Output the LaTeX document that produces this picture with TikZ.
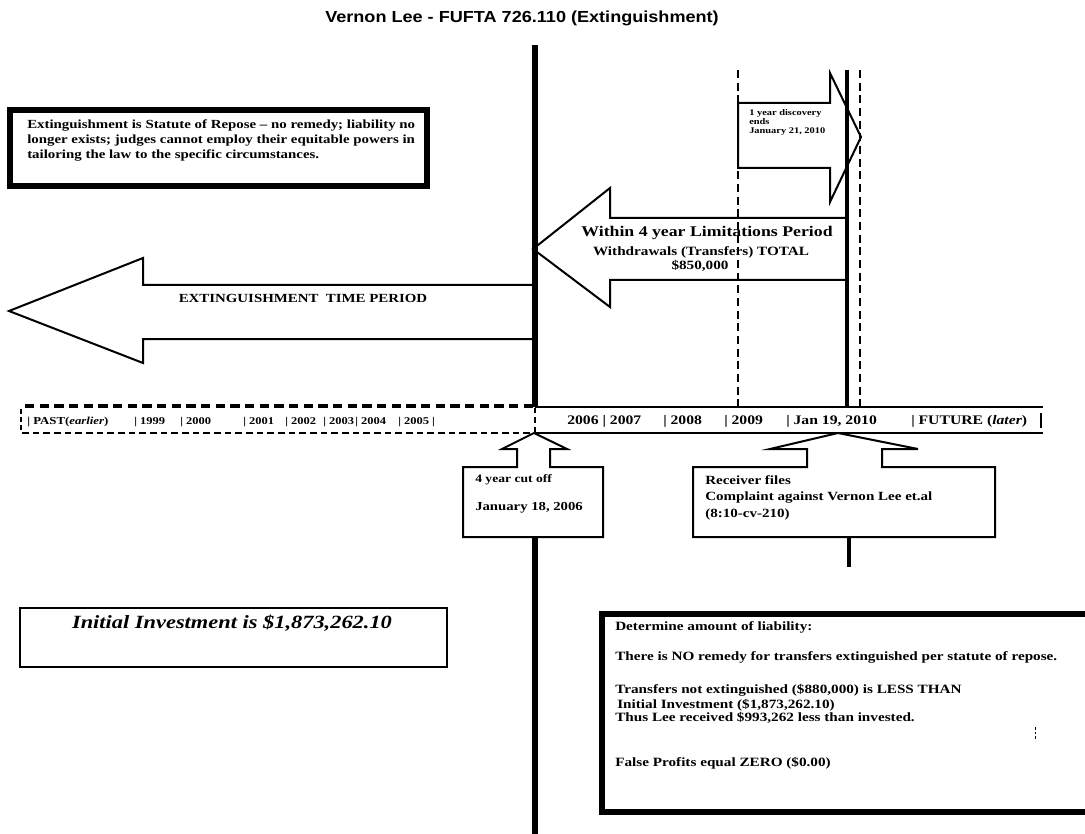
\documentclass[tikz,border=0pt]{standalone}
\usepackage{fontspec}
\setmainfont[FakeStretch=1.2]{Liberation Serif}
\newfontfamily\titlefont[FakeStretch=1.13]{Liberation Sans}
\begin{document}
\begin{tikzpicture}[x=0.75pt,y=-0.75pt,line join=miter,
  txt/.style={inner sep=0pt,font=\bfseries\fontsize{9.5}{11.25}\selectfont},
  tl/.style={inner sep=0pt,anchor=west,font=\bfseries\fontsize{9.8}{10}\selectfont},
  tlsmall/.style={inner sep=0pt,anchor=west,font=\bfseries\fontsize{7.8}{9}\selectfont},
  blockarrow/.style={draw,fill=white,line width=1.5pt},
  dashline/.style={line width=1.5pt,dash pattern=on 6pt off 3.5pt},
  callout/.style={draw,fill=white,line width=1.5pt}]
\useasboundingbox[fill=white] (0,0) rectangle (1085,834);

% title
\node[inner sep=0pt,font=\titlefont\bfseries\fontsize{12}{14}\selectfont] (title) at (522,18) {Vernon Lee - FUFTA 726.110 (Extinguishment)};

% boxes
\draw[line width=3.8pt] (10,110) rectangle (427,186);
\node[txt,anchor=north west,align=left,font=\bfseries\fontsize{9.3}{11.25}\selectfont] (extbox) at (27,120) {Extinguishment is Statute of Repose -- no remedy; liability no\\longer exists; judges cannot employ their equitable powers in\\tailoring the law to the specific circumstances.};

\draw[line width=1.2pt] (20,608) rectangle (447,667);
\node[inner sep=0pt,font=\bfseries\itshape\fontsize{14}{16}\selectfont] (initial) at (232,623) {Initial Investment is \$1,873,262.10};

\draw[line width=5pt] (602,614) rectangle (1100,812);
\node[txt,anchor=west] (l1) at (615,627) {Determine amount of liability:};
\node[txt,anchor=west] (l2) at (615,657) {There is NO remedy for transfers extinguished per statute of repose.};
\node[txt,anchor=west] (l3) at (615,690) {Transfers not extinguished (\$880,000) is LESS THAN};
\node[txt,anchor=west] (l4) at (617,705) {Initial Investment (\$1,873,262.10)};
\node[txt,anchor=west] (l5) at (615,718) {Thus Lee received \$993,262 less than invested.};
\node[txt,anchor=west] (l6) at (615,763) {False Profits equal ZERO (\$0.00)};
\draw[line width=0.6pt,dash pattern=on 2pt off 1.5pt] (1035,727) -- (1035,741);

% block arrows
\draw[blockarrow] (535,285) -- (143,285) -- (143,258) -- (9,311) -- (143,363) -- (143,339) -- (535,339);
\node[inner sep=0pt,font=\bfseries\fontsize{9.3}{12}\selectfont] (extlabel) at (303,298) {EXTINGUISHMENT\ \ TIME PERIOD};

\draw[blockarrow] (845,218) -- (610,218) -- (610,188) -- (533,249) -- (610,307) -- (610,280) -- (845,280);
\node[inner sep=0pt,align=center,font=\bfseries\fontsize{11.1}{13}\selectfont] (within) at (707,233) {Within 4 year Limitations Period};
\node[inner sep=0pt,align=center,font=\bfseries\fontsize{9.5}{11}\selectfont] (withdr) at (701,252) {Withdrawals (Transfers) TOTAL};
\node[inner sep=0pt,align=center,font=\bfseries\fontsize{9.5}{11}\selectfont] (amount) at (700,266) {\$850,000};

\draw[blockarrow] (738,103) -- (830,103) -- (830,73) -- (861,137) -- (830,202) -- (830,168) -- (738,168) -- cycle;
\node[inner sep=0pt,anchor=north west,align=left,font=\bfseries\fontsize{6.5}{6.8}\selectfont] (discovery) at (749,109) {1 year discovery\\ends\\January 21, 2010};

% timeline
\draw[line width=2.4pt,dash pattern=on 7pt off 4pt] (533,406) -- (22,406);
\draw[line width=0.8pt,dash pattern=on 5pt off 3pt] (22,433) -- (533,433);
\draw[line width=1.5pt,dash pattern=on 4pt off 2pt] (21,409) -- (21,432);
\draw[line width=1.5pt] (535,407) -- (1043,407);
\draw[line width=1.2pt] (535,433) -- (1043,433);
\draw[line width=1.2pt] (1041,413) -- (1041,428);
\node[tlsmall,font=\bfseries\fontsize{8}{9}\selectfont] (past) at (27,422) {| PAST(\textit{earlier})};
\node[tlsmall] (y1999) at (134,422) {| 1999};
\node[tlsmall] (y2000) at (180,422) {| 2000};
\node[tlsmall] (y2001) at (243,422) {| 2001};
\node[tlsmall] (y2002) at (285,422) {| 2002};
\node[tlsmall] (y2003) at (323,422) {| 2003};
\node[tlsmall] (y2004) at (355,422) {| 2004};
\node[tlsmall] (y2005) at (398,422) {| 2005 |};
\node[tl] (y2006) at (567,421) {2006 | 2007};
\node[tl] (y2008) at (663,421) {| 2008};
\node[tl] (y2009) at (724,421) {| 2009};
\node[tl] (jan) at (786,421) {| Jan 19, 2010};
\node[tl] (future) at (911,421) {| FUTURE (\textit{later})};

% vertical lines
\draw[line width=5pt] (535,45) -- (535,407);
\draw[line width=1.2pt,dash pattern=on 4pt off 3pt] (535,408) -- (535,432);
\draw[line width=5pt] (535,537) -- (535,834);
\draw[line width=3pt] (847,70) -- (847,407);
\draw[dashline] (738,70) -- (738,406);
\draw[dashline] (860,70) -- (860,406);

% callouts
\draw[callout] (534,433) -- (567,449) -- (550,449) -- (550,467) -- (603,467) -- (603,537) -- (463,537) -- (463,467) -- (517,467) -- (517,449) -- (502,449) -- cycle;
\node[inner sep=0pt,anchor=west,font=\bfseries\fontsize{8.5}{12}\selectfont] (cut1) at (475,480) {4 year cut off};
\node[inner sep=0pt,anchor=west,font=\bfseries\fontsize{9.2}{12}\selectfont] (cut2) at (475,508) {January 18, 2006};

\draw[callout] (838,433) -- (918,449) -- (882,449) -- (882,467) -- (995,467) -- (995,537) -- (693,537) -- (693,467) -- (807,467) -- (807,449) -- (770,449) -- cycle;
\node[inner sep=0pt,anchor=north west,align=left,font=\bfseries\fontsize{9.4}{12.4}\selectfont] (receiver) at (705,475) {Receiver files\\Complaint against Vernon Lee et.al\\(8:10-cv-210)};
\draw[line width=3pt] (849,537) -- (849,567);
\end{tikzpicture}
\end{document}
